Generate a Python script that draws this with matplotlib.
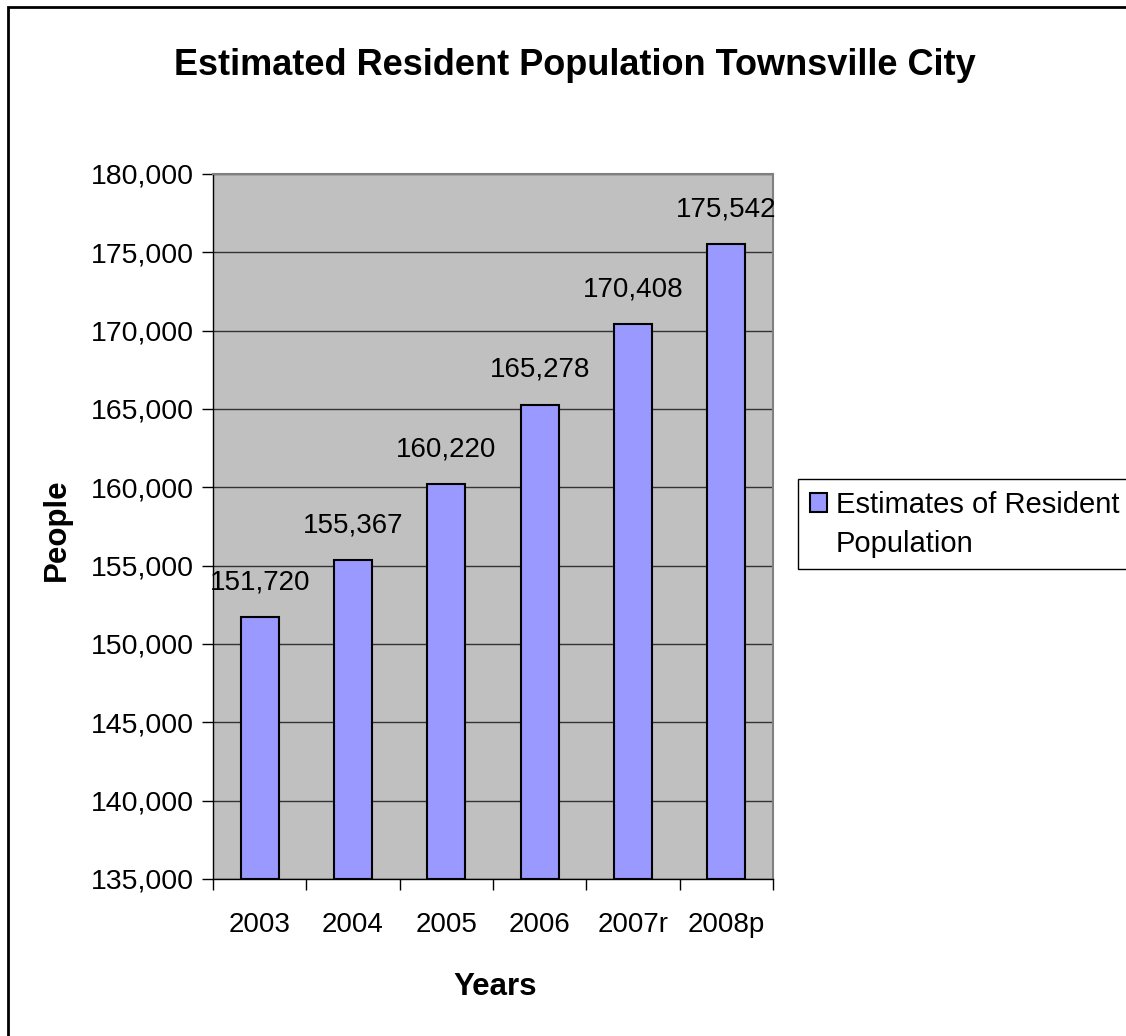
import matplotlib
matplotlib.use("Agg")
import matplotlib.pyplot as plt
from matplotlib.patches import Rectangle, Patch
from matplotlib.ticker import FuncFormatter, MultipleLocator

years = ["2003", "2004", "2005", "2006", "2007r", "2008p"]
population = [151720, 155367, 160220, 165278, 170408, 175542]
series_lines = ["Estimates of Resident", "Population"]
title = "Estimated Resident Population Townsville City"
x_label = "Years"
y_label = "People"
y_min, y_max, y_step = 135000, 180000, 5000

plt.rcParams['font.family'] = ['Liberation Sans', 'DejaVu Sans']

W, H = 1126, 1036
fig = plt.figure(figsize=(W / 100, H / 100), dpi=100)
fig.patch.set_facecolor('white')

# outer chart border (cropped on right/bottom)
fig.patches.append(Rectangle((8 / W, -0.05), 1.2, 1 - 7 / H + 0.05,
                             transform=fig.transFigure, fill=False,
                             edgecolor='black', linewidth=2))

ax = fig.add_axes([213 / W, 1 - 879 / H, (773 - 213) / W, (879 - 174) / H])
ax.set_facecolor('#C0C0C0')
for s in ax.spines.values():
    s.set_color('#808080')
    s.set_linewidth(1.5)
ax.spines['left'].set_color('black')
ax.spines['bottom'].set_color('black')
ax.spines['left'].set_linewidth(1)
ax.spines['bottom'].set_linewidth(1)

x = list(range(len(years)))
ax.bar(x, [p - y_min for p in population], bottom=y_min, width=0.41,
       color='#9999FF', edgecolor='black', linewidth=1.5, zorder=3)

ax.set_xlim(-0.5, len(years) - 0.5)
ax.set_ylim(y_min, y_max)
ax.yaxis.set_major_locator(MultipleLocator(y_step))
ax.yaxis.set_major_formatter(FuncFormatter(lambda v, p: f"{int(v):,}"))
ax.grid(axis='y', color='#333333', linewidth=1, zorder=1)
ax.set_axisbelow(True)

ax.set_xticks(x)
ax.set_xticklabels(years)
ax.set_xticks([i - 0.5 for i in range(len(years) + 1)], minor=True)
ax.tick_params(axis='x', which='major', length=0, pad=24, labelsize=20)
ax.tick_params(axis='x', which='minor', length=8, direction='out', width=1)
ax.tick_params(axis='y', length=8, direction='out', width=1, pad=6, labelsize=20.5)

for xi, p in zip(x, population):
    ax.annotate(f"{p:,}", xy=(xi, p), xytext=(0, 25), textcoords='offset points',
                ha='center', va='center', fontsize=20, zorder=4,
                annotation_clip=False)

fig.text(575 / W, 1 - 75 / H, title, ha='center', va='baseline',
         fontsize=26, fontweight='bold')
fig.text(495 / W, 1 - 995 / H, x_label, ha='center', va='baseline',
         fontsize=22.5, fontweight='bold')
fig.text(57 / W, 1 - 530 / H, y_label, ha='center', va='center',
         fontsize=22.5, fontweight='bold', rotation=90)

handles = [Patch(facecolor='#9999FF', edgecolor='black', linewidth=1.5,
                 label=series_lines[0]),
           Patch(facecolor='none', edgecolor='none', label=series_lines[1])]
leg = fig.legend(handles=handles,
                 loc='upper left', bbox_to_anchor=(798 / W, 1 - 479 / H),
                 bbox_transform=fig.transFigure, borderaxespad=0,
                 fontsize=21, frameon=True, fancybox=False,
                 handlelength=0.6, handleheight=0.6, handletextpad=0.3,
                 borderpad=0.4, labelspacing=0.38)
leg.get_frame().set_edgecolor('black')
leg.get_frame().set_linewidth(1)
leg.get_frame().set_alpha(1)

fig.savefig("out.png", dpi=100)
